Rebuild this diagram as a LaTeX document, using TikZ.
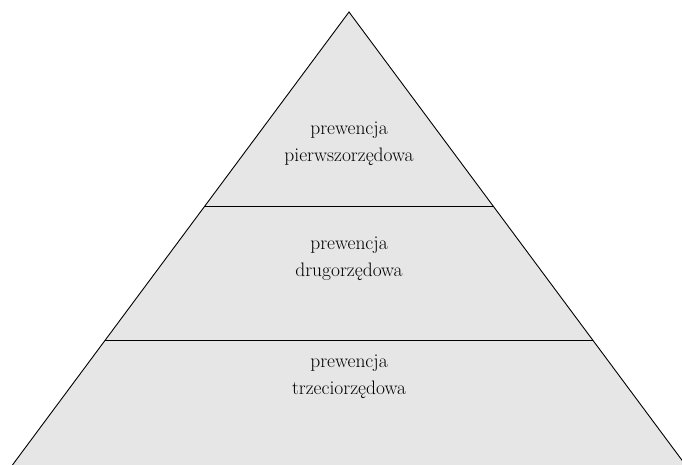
\documentclass[tikz,border=0pt]{standalone}
\usetikzlibrary{calc}
\definecolor{tierfill}{HTML}{E6E6E6}
\tikzset{
  tierlabel/.style={align=center, font=\fontsize{19.5}{26.5}\selectfont, inner sep=0pt},
  edge/.style={draw=black, line width=0.9pt}
}
\begin{document}
\begin{tikzpicture}[x=1pt,y=1pt]
\useasboundingbox (0,0) rectangle (682,465);
\clip (0,0) rectangle (682,465);
\coordinate (A) at (349,453);
\coordinate (L) at (8,-6);
\coordinate (R) at (690,-6);
\fill[tierfill] (A) -- (L) -- (R) -- cycle;
\draw[edge, line join=miter] (L) -- (A) -- (R);
\coordinate (d1l) at ($(A)!{(453-259)/459}!(L)$);
\coordinate (d1r) at ($(A)!{(453-259)/459}!(R)$);
\coordinate (d2l) at ($(A)!{(453-125)/459}!(L)$);
\coordinate (d2r) at ($(A)!{(453-125)/459}!(R)$);
\draw[edge] (d1l) -- (d1r);
\draw[edge] (d2l) -- (d2r);
\node[tierlabel] (t1) at (349,321) {prewencja\\pierwszorzędowa};
\node[tierlabel] (t2) at (349,206) {prewencja\\drugorzędowa};
\node[tierlabel] (t3) at (349,88) {prewencja\\trzeciorzędowa};
\end{tikzpicture}
\end{document}
